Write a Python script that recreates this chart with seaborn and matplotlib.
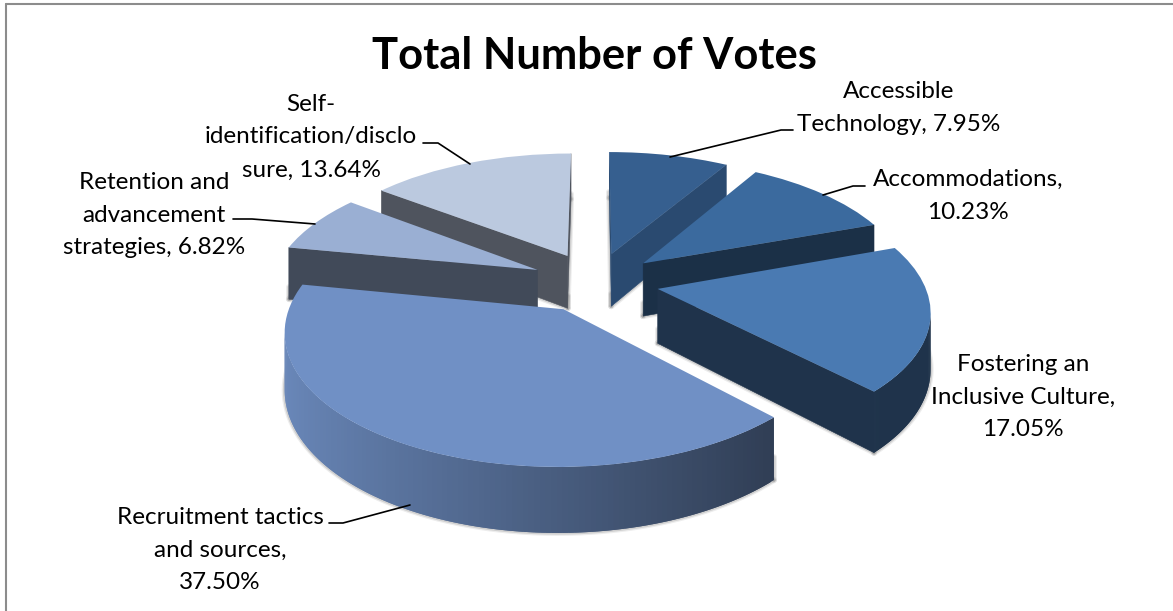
import numpy as np
import matplotlib
matplotlib.use("Agg")
import matplotlib.pyplot as plt
from matplotlib.colors import to_rgb
from matplotlib.transforms import Transform
import seaborn as sns

# Vote shares per topic, clockwise from twelve o'clock
topics = [
    "Accessible\nTechnology",
    "Accommodations",
    "Fostering an\nInclusive Culture",
    "Recruitment tactics\nand sources",
    "Retention and\nadvancement\nstrategies",
    "Self-\nidentification/disclo\nsure",
]
shares = [7.95, 10.23, 17.05, 37.50, 6.82, 13.64]
explode = [0.24, 0.24, 0.24, 0.24, 0.24, 0.24]
value_breaks = [" ", "\n", "\n", "\n", " ", " "]

top_colors = ["#365f8f", "#3b6a9e", "#4a7ab2", "#7090c5", "#9aafd3", "#bbc9df"]
radial_shade = [0.78, 0.45, 0.42, 0.42, 0.42, 0.42]
paint_order = [5, 0, 4, 1, 2, 3]

# Label anchors and leader lines, in figure pixels
label_xy = [(899, 108), (968, 196), (1023, 397), (220, 550), (154, 215), (311, 137)]
leaders = [
    [(670, 157), (781, 130), (793, 130)],
    [(823, 195), (853, 186), (865, 186)],
    None,
    [(410, 505), (343, 523), (329, 523)],
    [(315, 224), (252, 219), (233, 219)],
    [(470, 164), (438, 143), (423, 143)],
]

W, H = 1173, 611
CX, CY = 595.0, 282.0
SX, SY, DEPTH, PERSP = 266.0, 125.0, 54.0, 0.15


def project(x, y, z=0.0):
    """Perspective view of the pie plane; z is depth below the top face in pixels."""
    x, y = np.asarray(x, float), np.asarray(y, float)
    s = 1.0 / (1.0 + PERSP * y)
    return CX + SX * x * s, CY - SY * y * s + z * s


class PieView(Transform):
    input_dims = output_dims = 2
    is_separable = False
    has_inverse = False

    def transform_non_affine(self, values):
        px, py = project(values[:, 0], values[:, 1])
        return np.column_stack([px, py])


def shaded(color, factor):
    return tuple(min(1.0, c * factor) for c in to_rgb(color))


sns.set_theme(style="white")
plt.rcParams["font.family"] = ["Lato", "DejaVu Sans"]
palette = sns.color_palette(top_colors)

fig = plt.figure(figsize=(W / 100, H / 100), dpi=100, facecolor="white")
ax = fig.add_axes([0, 0, 1, 1])

wedges, _ = ax.pie(shares, explode=explode, colors=palette, startangle=90,
                   counterclock=False, radius=1.0,
                   wedgeprops={"linewidth": 0, "edgecolor": "none"})
ax.set_aspect("auto")
ax.set_xlim(0, W)
ax.set_ylim(H, 0)
ax.axis("off")

view = PieView() + ax.transData

for rank, i in enumerate(paint_order):
    wedge = wedges[i]
    wedge.set_transform(view)
    wedge.set_zorder(10 * rank + 5)
    wedge.set_clip_on(False)
    cx, cy = wedge.center
    # Walk the rim clockwise as seen from above
    theta = np.radians(np.arange(wedge.theta2, wedge.theta1 - 0.01, -1.0))
    if theta[-1] != np.radians(wedge.theta1):
        theta = np.append(theta, np.radians(wedge.theta1))
    rx, ry = cx + np.cos(theta), cy + np.sin(theta)
    px, py = project(rx, ry)
    px2, py2 = project(rx, ry, DEPTH)
    apex_x, apex_y = project(cx, cy)
    apex_x2, apex_y2 = project(cx, cy, DEPTH)

    # Soft shadow along the base and the vertical corners
    base_x = np.concatenate([[apex_x2], px2, [apex_x2]])
    base_y = np.concatenate([[apex_y2], py2, [apex_y2]])
    for width, alpha in [(6, 0.07), (3.5, 0.12)]:
        ax.plot(base_x, base_y, color="black", lw=width * 0.72, alpha=alpha,
                zorder=10 * rank + 1, solid_capstyle="round")
        for vx, vy, vy2 in [(apex_x, apex_y + 40, apex_y2), (px[0], py[0] + 40, py2[0]),
                            (px[-1], py[-1] + 40, py2[-1])]:
            ax.plot([vx, vx], [vy, vy2], color="black", lw=width * 0.72, alpha=alpha,
                    zorder=10 * rank + 1, solid_capstyle="round")

    wall_side = shaded(palette[i], radial_shade[i])
    # Radial walls: apex to first rim point, last rim point back to apex
    edges = [((apex_x, apex_y, apex_y2), (px[0], py[0], py2[0])),
             ((px[-1], py[-1], py2[-1]), (apex_x, apex_y, apex_y2))]
    for (xa, ya, ya2), (xb, yb, yb2) in edges:
        if xb < xa:
            ax.fill([xa, xb, xb, xa], [ya, yb, yb2, ya2], color=wall_side,
                    lw=0.4, zorder=10 * rank + 2)

    # Rim wall, lit from the left; quads overlap so no seams show
    last = len(theta) - 1
    for k in range(last):
        j = min(k + 2, last)
        if px[k + 1] < px[k]:
            if px[j] >= px[k + 1]:
                j = k + 1
            normal = np.cos(0.5 * (theta[k] + theta[k + 1]))
            factor = np.interp(normal, [-1.0, 0.72], [0.95, 0.42])
            ax.fill([px[k], px[j], px2[j], px2[k]],
                    [py[k], py[j], py2[j], py2[k]],
                    color=shaded(palette[i], factor), lw=0, zorder=10 * rank + 3)

# Category labels
for i, (name, value) in enumerate(zip(topics, shares)):
    ax.text(*label_xy[i], f"{name},{value_breaks[i]}{value:.2f}%", ha="center", va="center",
            fontsize=17.5, linespacing=1.7, color="black", zorder=100)
    if leaders[i]:
        lx, ly = zip(*leaders[i])
        ax.plot(lx, ly, color="black", lw=1.2, zorder=100, clip_on=False)

ax.text(594, 69, "Total Number of Votes", ha="center", va="baseline",
        fontsize=31.3, fontweight="bold", color="black", zorder=100)

# Chart frame: left and top rules only reach the canvas edge
ax.plot([6, 6], [H, 4], color="#8c8c8c", lw=1.5, zorder=100)
ax.plot([6, W], [4, 4], color="#8c8c8c", lw=1.5, zorder=100)

fig.savefig("out.png", dpi=100, facecolor="white")
